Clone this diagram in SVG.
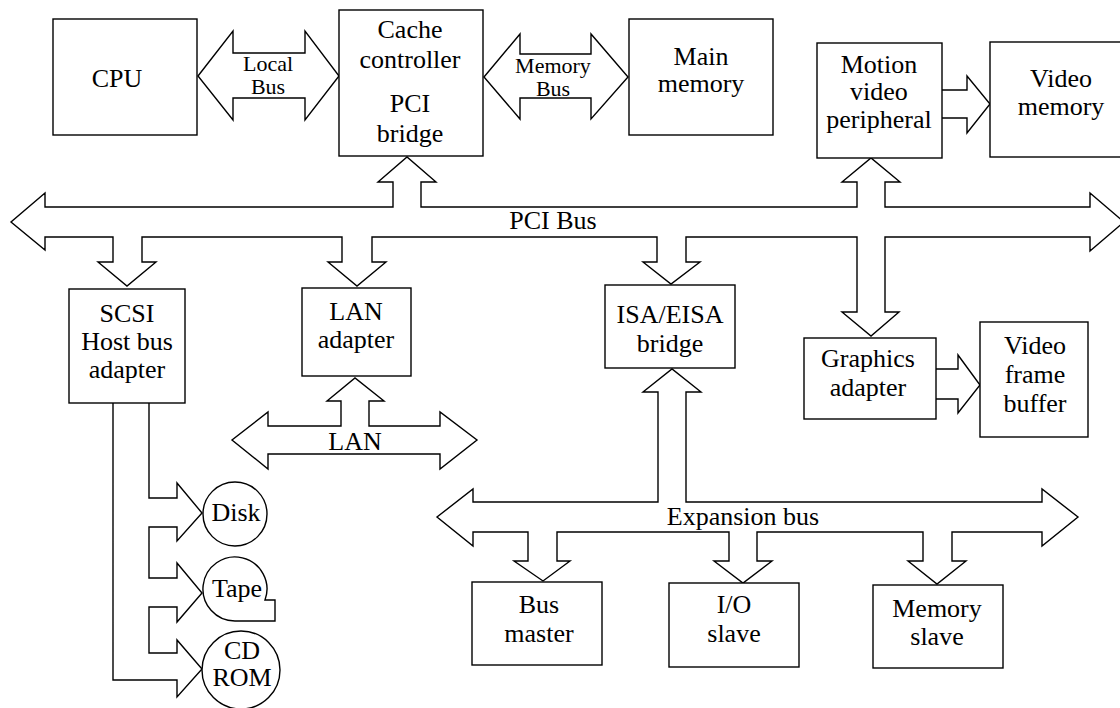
<svg xmlns="http://www.w3.org/2000/svg" width="1120" height="708" viewBox="0 0 1120 708">
<style>
.box{fill:#fff;stroke:#000;stroke-width:1.4}
.con{fill:#fff;stroke:#000;stroke-width:1.4;stroke-linejoin:miter}
text{font-family:'Liberation Serif','Times New Roman',serif;font-size:26px;fill:#000;text-anchor:middle}
.sm{font-size:22px}
</style>
<rect width="1120" height="708" fill="#fff"/>
<g id="connectors">
<path id="local-bus" class="con" d="M198,76 L233,31 L233,53 L305,53 L305,31 L339,76 L305,120 L305,98 L233,98 L233,120 Z"/>
<path id="memory-bus" class="con" d="M484,77 L520,34 L520,54 L591,54 L591,34 L628,77 L591,119 L591,98 L520,98 L520,119 Z"/>
<path id="pci-bus" class="con" d="M45,207 L393,207 L393,182 L378,182 L407,157 L436,182 L421,182 L421,207 L857,207 L857,182 L842,182 L871,158 L900,182 L885,182 L885,207 L1090,207 L1090,193 L1124,222 L1090,251 L1090,237 L885,237 L885,312 L899,312 L871,336 L842,312 L857,312 L857,237 L686,237 L686,262 L700,262 L671,284 L643,262 L657,262 L657,237 L372,237 L372,262 L386,262 L357,286 L328,262 L342,262 L342,237 L142,237 L142,262 L156,262 L127,286 L98,262 L113,262 L113,237 L45,237 L45,250 L11,222 L45,193 Z"/>
<path id="mv-to-vmem" class="con" d="M942,90 L967,90 L967,76 L990,104 L967,133 L967,118 L942,118"/>
<path id="ga-to-vfb" class="con" d="M936,369 L958,369 L958,355 L980,385 L958,413 L958,399 L936,399"/>
<path id="lan" class="con" d="M268,426 L341,426 L341,401 L327,401 L355,378 L384,401 L369,401 L369,426 L440,426 L440,412 L477,440 L440,469 L440,454 L268,454 L268,469 L232,440 L268,412 Z"/>
<path id="expansion-bus" class="con" d="M473,502 L658,502 L658,392 L643,392 L672,369 L701,392 L686,392 L686,502 L1042,502 L1042,489 L1078,517 L1042,546 L1042,532 L952,532 L952,561 L966,561 L937,584 L908,561 L923,561 L923,532 L757,532 L757,561 L772,561 L743,583 L714,561 L729,561 L729,532 L557,532 L557,561 L570,561 L543,581 L514,561 L528,561 L528,532 L473,532 L473,546 L437,517 L473,489 Z"/>
<path id="scsi-devices" class="con" d="M113,403 L113,680 L177,680 L177,697 L202,669 L177,640 L177,653 L149,653 L149,607 L177,607 L177,622 L202,593 L177,563 L177,578 L149,578 L149,527 L177,527 L177,541 L202,513 L177,483 L177,498 L149,498 L149,403"/>
<text class="sm" x="268" y="71">Local</text>
<text class="sm" x="268" y="94">Bus</text>
<text class="sm" x="553" y="73">Memory</text>
<text class="sm" x="553" y="96">Bus</text>
<text x="553" y="229">PCI Bus</text>
<text x="355" y="450">LAN</text>
<text x="743" y="525">Expansion bus</text>
</g>
<g id="cpu"><rect class="box" x="53" y="19" width="144" height="116"/><text x="117" y="87">CPU</text></g>
<g id="cache"><rect class="box" x="339" y="10" width="144" height="146"/><text x="410" y="38">Cache</text><text x="410" y="68">controller</text><text x="410" y="112">PCI</text><text x="410" y="142">bridge</text></g>
<g id="main-memory"><rect class="box" x="629" y="19" width="144" height="116"/><text x="701" y="65">Main</text><text x="701" y="92">memory</text></g>
<g id="motion-video"><rect class="box" x="817" y="43" width="125" height="115"/><text x="879" y="73">Motion</text><text x="879" y="100">video</text><text x="879" y="128">peripheral</text></g>
<g id="video-memory"><rect class="box" x="990" y="42" width="136" height="115"/><text x="1061" y="87">Video</text><text x="1061" y="115">memory</text></g>
<g id="scsi"><rect class="box" x="69" y="289" width="116" height="114"/><text x="127" y="322">SCSI</text><text x="127" y="350">Host bus</text><text x="127" y="378">adapter</text></g>
<g id="lan-adapter"><rect class="box" x="302" y="288" width="109" height="88"/><text x="356" y="320">LAN</text><text x="356" y="348">adapter</text></g>
<g id="isa-bridge"><rect class="box" x="605" y="285" width="130" height="83"/><text x="670" y="323">ISA/EISA</text><text x="670" y="352">bridge</text></g>
<g id="graphics"><rect class="box" x="804" y="338" width="132" height="81"/><text x="868" y="367">Graphics</text><text x="868" y="396">adapter</text></g>
<g id="frame-buffer"><rect class="box" x="980" y="322" width="108" height="115"/><text x="1035" y="354">Video</text><text x="1035" y="383">frame</text><text x="1035" y="412">buffer</text></g>
<g id="bus-master"><rect class="box" x="472" y="582" width="130" height="83"/><text x="539" y="613">Bus</text><text x="539" y="642">master</text></g>
<g id="io-slave"><rect class="box" x="669" y="583" width="130" height="84"/><text x="734" y="613">I/O</text><text x="734" y="642">slave</text></g>
<g id="memory-slave"><rect class="box" x="873" y="585" width="130" height="83"/><text x="937" y="617">Memory</text><text x="937" y="645">slave</text></g>
<g id="disk"><circle class="box" cx="235" cy="514" r="32"/><text x="236" y="521">Disk</text></g>
<g id="tape"><path class="box" d="M235,621 A32,32 0 1 1 265,600 L275,600 L275,621 Z"/><text x="237" y="597">Tape</text></g>
<g id="cdrom"><circle class="box" cx="241" cy="670" r="39"/><text x="242" y="659" font-size="23">CD</text><text x="242" y="686" font-size="23">ROM</text></g>
</svg>
